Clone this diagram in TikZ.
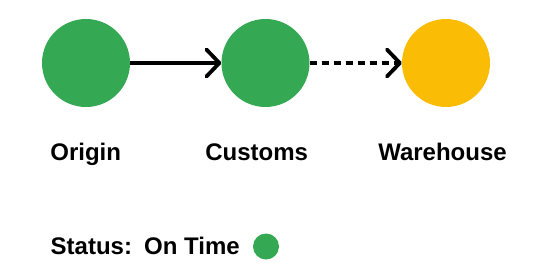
\documentclass[tikz,border=0pt]{standalone}
\usepackage{fontspec}
\setmainfont{Liberation Sans}
\usetikzlibrary{arrows.meta,positioning}
\definecolor{okgreen}{HTML}{34A853}
\definecolor{waityellow}{HTML}{FBBC05}
\tikzset{
  stop/.style={circle,minimum size=88pt,inner sep=0pt},
  lbl/.style={anchor=base,inner sep=0pt,font=\fontsize{24}{28}\selectfont\bfseries},
  leg/.style={lbl,anchor=base west},
  link/.style={line width=3.8pt,-{Straight Barb[length=13pt,width=27pt,round]}}
}
\begin{document}
\begin{tikzpicture}[x=1pt,y=1pt]
        \useasboundingbox(0,0) rectangle (554,268);
        %tappe
        \node[stop,fill=okgreen](origin) at (86,205){};
        \node[stop,fill=okgreen](customs) at (265.5,205){};
        \node[stop,fill=waityellow](warehouse) at (446,205){};
        %frecce
        \draw[link](origin)--(customs);
        \draw[link,dash pattern=on 7pt off 5pt](customs)--(warehouse);
        %etichette
        \node[lbl](lblorigin) at (85.7,107.5){Origin};
        \node[lbl](lblcustoms) at (256.7,107.5){Customs};
        \node[lbl](lblwarehouse) at (442.5,107.5){Warehouse};
        %stato
        \node[leg](status) at (50.5,14){Status:};
        \node[leg](ontime) at (144,14){On Time};
        \node[circle,fill=okgreen,minimum size=26pt,inner sep=0pt](dot) at (266,21.5){};
    \end{tikzpicture}
\end{document}
